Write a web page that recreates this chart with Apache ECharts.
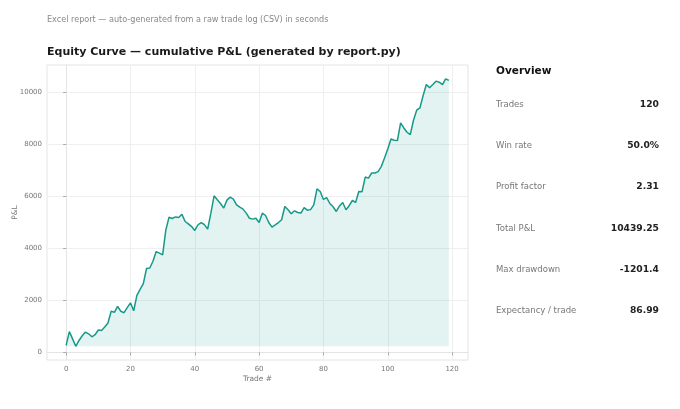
<!DOCTYPE html>
<html>
<head>
<meta charset="utf-8">
<script src="https://cdn.jsdelivr.net/npm/echarts@6/dist/echarts.min.js"></script>
<style>
  html, body { margin: 0; padding: 0; background: #fff; }
  #main { width: 680px; height: 409px; }
</style>
</head>
<body>
<div id="main"></div>
<script>
'use strict'

// cumulative P&L after each trade
const equity = [
  270, 800, 520, 235, 460, 640, 780, 715, 600, 680,
  860, 845, 975, 1130, 1580, 1540, 1770, 1580, 1525, 1720,
  1905, 1600, 2190, 2420, 2640, 3220, 3240, 3500, 3870, 3810,
  3745, 4700, 5190, 5140, 5200, 5180, 5300, 5025, 4935, 4830,
  4680, 4900, 4985, 4905, 4730, 5345, 6012, 5860, 5715, 5540,
  5845, 5960, 5885, 5665, 5575, 5500, 5345, 5150, 5115, 5150,
  4985, 5345, 5255, 4985, 4810.6, 4895, 4985, 5090, 5600, 5475,
  5320, 5435, 5370, 5350, 5560, 5460, 5480, 5665, 6275, 6175,
  5870, 5940, 5715, 5590, 5410, 5620, 5755, 5475, 5630, 5830,
  5755, 6175, 6165, 6730, 6690, 6885, 6885, 6940, 7140, 7460,
  7810, 8190, 8140, 8130, 8810, 8615, 8450, 8360, 8910, 9295,
  9385, 9860, 10280, 10155, 10280, 10410, 10370, 10280, 10500, 10439.25
];
const xTicks = [0, 20, 40, 60, 80, 100, 120];
const yTicks = [0, 2000, 4000, 6000, 8000, 10000];

const statLabels = ['Trades', 'Win rate', 'Profit factor', 'Total P&L', 'Max drawdown', 'Expectancy / trade'];
const statValues = ['120', '50.0%', '2.31', '10439.25', '-1201.4', '86.99'];

const FONT = 'DejaVu Sans';
const TEAL = '#17998a';

var myChart = echarts.init(document.getElementById('main'), null, { renderer: 'canvas' });

// build [trade#, pnl] pairs
let points = [];
for (let i = 0; i < equity.length; i++) {
  points.push([i, equity[i]]);
}
let floor = Math.min.apply(null, equity);

// side panel text
let panel = [];
panel.push({
  type: 'text', left: 496, top: 66,
  style: { text: 'Overview', font: 'bold 10.5px "' + FONT + '"', fill: '#111' }
});
for (let i = 0; i < statLabels.length; i++) {
  let y = 100 + i * 41.3;
  panel.push({
    type: 'text', left: 496, top: y,
    style: { text: statLabels[i], font: '8.5px "' + FONT + '"', fill: '#777' }
  });
  panel.push({
    type: 'text', right: 21, top: y,
    style: { text: statValues[i], font: 'bold 9.2px "' + FONT + '"', fill: '#222', align: 'right' }
  });
}

var option = {
  animation: false,
  backgroundColor: '#fff',
  textStyle: { fontFamily: FONT },
  title: [
    {
      text: 'Excel report \u2014 auto-generated from a raw trade log (CSV) in seconds',
      left: 42, top: 11,
      textStyle: { fontSize: 8.1, fontWeight: 'normal', color: '#888', fontFamily: FONT }
    },
    {
      text: 'Equity Curve \u2014 cumulative P&L (generated by report.py)',
      left: 42, top: 42,
      textStyle: { fontSize: 11, fontWeight: 'bold', color: '#1a1a1a', fontFamily: FONT }
    }
  ],
  grid: {
    left: 47, right: 212, top: 65, bottom: 49,
    containLabel: false, outerBoundsMode: 'none',
    show: true, borderColor: '#e4e4e4', borderWidth: 1
  },
  xAxis: {
    type: 'value',
    min: -5.95, max: 124.95,
    name: 'Trade #', nameLocation: 'middle', nameGap: 15, nameMoveOverlap: false,
    nameTextStyle: { fontSize: 7.5, color: '#777', fontFamily: FONT },
    axisLine: { show: true, lineStyle: { color: '#e4e4e4' } },
    axisTick: { show: true, length: 3, lineStyle: { color: '#aaa' }, customValues: xTicks },
    axisLabel: { fontSize: 7, color: '#777', margin: 6, customValues: xTicks, fontFamily: FONT },
    splitLine: { show: true, lineStyle: { color: '#efefef' } }
  },
  yAxis: {
    type: 'value',
    min: -290, max: 11030,
    name: 'P&L', nameLocation: 'middle', nameGap: 28, nameMoveOverlap: false,
    nameTextStyle: { fontSize: 7.5, color: '#777', fontFamily: FONT },
    axisLine: { show: true, lineStyle: { color: '#e4e4e4' } },
    axisTick: { show: true, length: 3, lineStyle: { color: '#aaa' }, customValues: yTicks },
    axisLabel: {
      fontSize: 7, color: '#777', margin: 5, customValues: yTicks, fontFamily: FONT,
      formatter: function (v) { return String(v); }
    },
    splitLine: { show: true, lineStyle: { color: '#efefef' } }
  },
  series: [
    {
      type: 'line',
      data: points,
      showSymbol: false,
      lineStyle: { color: TEAL, width: 1.5 },
      itemStyle: { color: TEAL },
      areaStyle: { color: TEAL, opacity: 0.12, origin: floor }
    }
  ],
  graphic: panel
};

myChart.setOption(option);
</script>
</body>
</html>
